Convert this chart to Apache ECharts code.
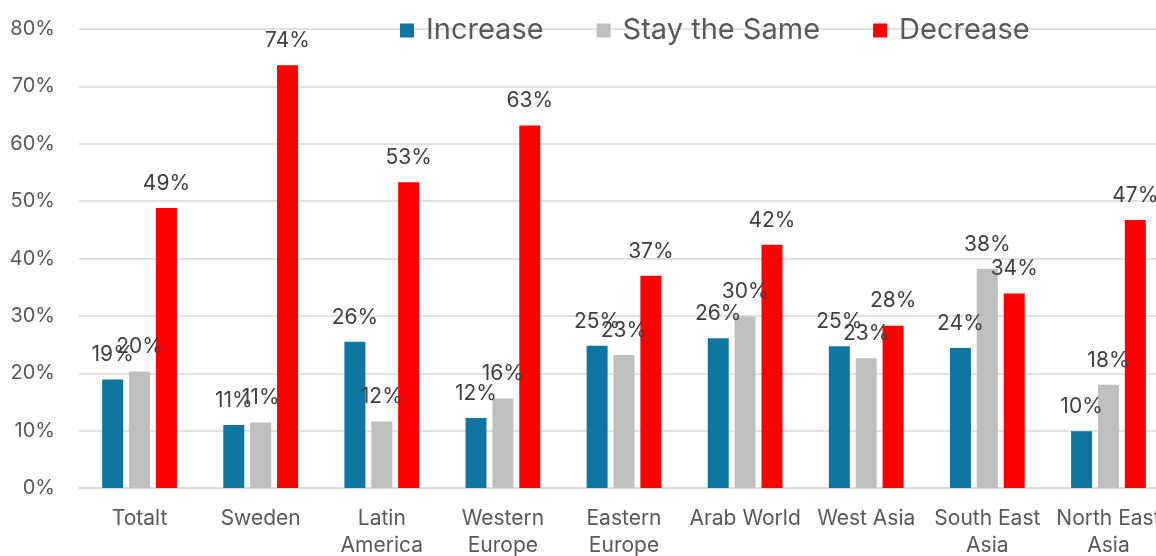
<!DOCTYPE html>
<html><head><meta charset="utf-8">
<script src="https://cdn.jsdelivr.net/npm/echarts@6/dist/echarts.min.js"></script>
<style>html,body{margin:0;padding:0;background:#fff}#c{width:1156px;height:556px}</style>
</head><body><div id="c"></div>
<script>
const categories = ["Totalt","Sweden","Latin America","Western Europe","Eastern Europe","Arab World","West Asia","South East Asia","North East Asia"];
const categoryLabels = ["Totalt","Sweden","Latin\nAmerica","Western\nEurope","Eastern\nEurope","Arab World","West Asia","South East\nAsia","North East\nAsia"];
const increase = [18.9, 11.0, 25.5, 12.2, 24.8, 26.1, 24.7, 24.4, 9.9];
const stayTheSame = [20.3, 11.4, 11.6, 15.6, 23.2, 29.9, 22.6, 38.2, 18.0];
const decrease = [48.8, 73.7, 53.3, 63.2, 37.0, 42.4, 28.3, 33.9, 46.7];
const seriesNames = ["Increase","Stay the Same","Decrease"];
const colors = ["#0E76A0","#BFBFBF","#FF0000"];
const yTicks = [0,10,20,30,40,50,60,70,80];

const font = "Inter, 'Noto Sans', sans-serif";
const chart = echarts.init(document.getElementById('c'), null, {renderer:'canvas'});
function mk(name, data, color){
  return {
    name, type:'bar', data, barWidth:21, barGap:'28%',
    itemStyle:{color},
    label:{show:true, position:'top', distance:14, color:'#404040', fontSize:21, fontFamily:font,
      formatter:p=>Math.round(p.value)+'%'}
  };
}
chart.setOption({
  animation:false,
  color:colors,
  legend:{top:11, left:395, itemWidth:14, itemHeight:14, itemGap:53, icon:'rect',
    textStyle:{fontSize:29, color:'#595959', fontFamily:font, padding:[0,0,0,7]}, data:seriesNames},
  grid:{left:79, width:1090, top:29, bottom:68, containLabel:false, outerBoundsMode:'none'},
  xAxis:{type:'category', data:categories,
    axisLine:{show:true, lineStyle:{color:'#D9D9D9', width:1.5}}, axisTick:{show:false},
    axisLabel:{color:'#595959', fontSize:21, fontFamily:font, margin:17, lineHeight:27, interval:0,
      formatter:(v,i)=>categoryLabels[i]}},
  yAxis:{type:'value', min:yTicks[0], max:yTicks[yTicks.length-1], interval:10,
    axisLine:{show:false}, axisTick:{show:false},
    splitLine:{lineStyle:{color:'#D9D9D9', width:1.5}},
    axisLabel:{color:'#595959', fontSize:20, fontFamily:font, margin:24, formatter:v=>v+'%'}},
  series:[mk(seriesNames[0], increase, colors[0]), mk(seriesNames[1], stayTheSame, colors[1]), mk(seriesNames[2], decrease, colors[2])]
});
</script></body></html>
